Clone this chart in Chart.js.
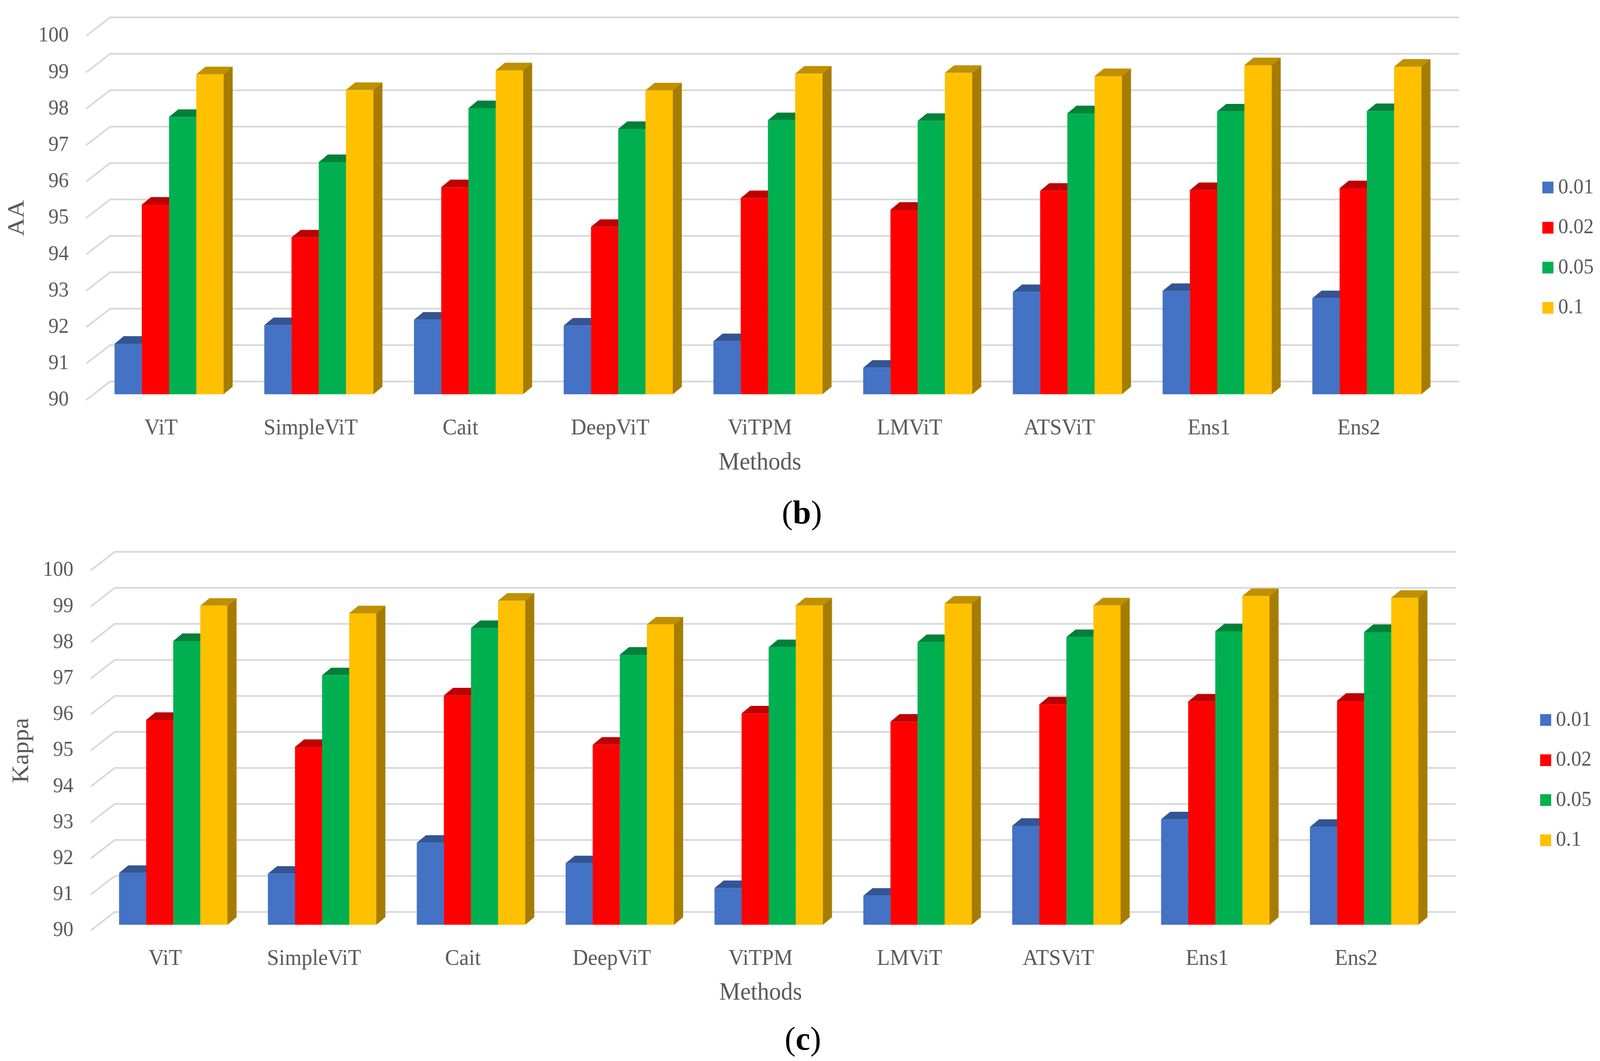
<!DOCTYPE html>
<html>
<head>
<meta charset="utf-8">
<title>AA and Kappa per method</title>
<script src="https://cdn.jsdelivr.net/npm/chart.js@4"></script>
<style>
  html, body { margin: 0; background: #fff; overflow: hidden; }
  canvas { position: absolute; left: 0; }
  .caption { position: absolute; font: 84px "Liberation Serif"; color: #000; transform: translate(-50%, -50%); }
</style>
</head>
<body>
<canvas id="aaChart" style="top:0"></canvas>
<canvas id="kappaChart" style="top:1358px"></canvas>
<div class="caption" style="left:50.12vw;top:1311px">(<b>b</b>)</div>
<div class="caption" style="left:50.18vw;top:2658px">(<b>c</b>)</div>

<script>
const methods = ["ViT", "SimpleViT", "Cait", "DeepViT", "ViTPM", "LMViT", "ATSViT", "Ens1", "Ens2"];
const seriesLabels = ["0.01", "0.02", "0.05", "0.1"];

// AA values
const aa001 = [91.39, 91.90, 92.05, 91.89, 91.46, 90.73, 92.81, 92.84, 92.64];
const aa002 = [95.21, 94.31, 95.69, 94.60, 95.39, 95.07, 95.59, 95.61, 95.66];
const aa005 = [97.62, 96.38, 97.86, 97.29, 97.53, 97.51, 97.72, 97.77, 97.78];
const aa01 = [98.79, 98.36, 98.90, 98.35, 98.81, 98.83, 98.74, 99.04, 99.00];

// Kappa values
const kappa001 = [91.44, 91.42, 92.28, 91.71, 91.02, 90.81, 92.75, 92.93, 92.72];
const kappa002 = [95.69, 94.94, 96.37, 95.00, 95.87, 95.64, 96.12, 96.20, 96.22];
const kappa005 = [97.88, 96.93, 98.24, 97.50, 97.71, 97.85, 97.99, 98.15, 98.13];
const kappa01 = [98.86, 98.65, 99.00, 98.34, 98.87, 98.92, 98.87, 99.13, 99.08];

const faceColors = ["#4472C4", "#FF0000", "#00B050", "#FFC000"];
const topColors = ["#335593", "#BE0000", "#00803A", "#BF9000"];
const sideColors = ["#2F5597", "#A00000", "#006B30", "#A67C00"];

const TEXT_COLOR = "#595959";
const FONT = "Liberation Serif";
// drawing size of the canvas; CSS fits it to the window, which can come out narrower than asked
const CANVAS_WIDTH = 4328;
const WALL_X = 65, WALL_Y = 47.4;     // front of the floor to the back wall
const BAR_X = 21.7, BAR_Y = 14.5;     // front of the floor to the bar faces
const DEPTH_X = 24.8, DEPTH_Y = 19.4; // bar depth

function polygon(ctx, color, points) {
    ctx.fillStyle = color;
    ctx.beginPath();
    points.forEach(([x, y], i) => i ? ctx.lineTo(x, y) : ctx.moveTo(x, y));
    ctx.closePath();
    ctx.fill();
}

// back wall, left wall and the top and side of every bar
const depth3d = {
    id: "depth3d",
    beforeDatasetsDraw(chart) {
        const { ctx, chartArea, scales } = chart;
        ctx.save();
        ctx.strokeStyle = "#D9D9D9";
        ctx.lineWidth = 4.5;
        scales.y.ticks.forEach(tick => {
            const y = scales.y.getPixelForValue(tick.value);
            ctx.beginPath();
            ctx.moveTo(chartArea.left, y);
            ctx.lineTo(chartArea.left + WALL_X, y - WALL_Y);
            ctx.lineTo(chartArea.right + WALL_X + 4, y - WALL_Y);
            ctx.stroke();
        });
        ctx.restore();

        // stays translated until afterDatasetsDraw so the bar faces land on the same plane
        ctx.save();
        ctx.translate(BAR_X, -BAR_Y);
        chart.data.datasets.forEach((dataset, s) => {
            chart.getDatasetMeta(s).data.forEach(bar => {
                const left = bar.x - bar.width / 2, right = bar.x + bar.width / 2;
                polygon(ctx, topColors[s], [[left, bar.y], [right, bar.y], [right + DEPTH_X, bar.y - DEPTH_Y], [left + DEPTH_X, bar.y - DEPTH_Y]]);
                polygon(ctx, sideColors[s], [[right, bar.y], [right + DEPTH_X, bar.y - DEPTH_Y], [right + DEPTH_X, bar.base - DEPTH_Y], [right, bar.base]]);
            });
        });
    },
    afterDatasetsDraw(chart) {
        chart.ctx.restore();
    }
};

// legend swatch as an image, so the label sits as close to it as in the picture
function swatch(color) {
    const c = document.createElement("canvas");
    c.width = 30;
    c.height = 30;
    const g = c.getContext("2d");
    g.fillStyle = color;
    g.fillRect(0, 0, 30, 30);
    return c;
}

function spacer(position, size) {
    return {
        type: "linear", position, display: true,
        ticks: { display: false }, grid: { display: false }, border: { display: false },
        afterFit(scale) { if (scale.isHorizontal()) scale.height = size; else scale.width = size; }
    };
}

function makeChart(id, yTitle, series, box) {
    const canvas = document.getElementById(id);
    canvas.width = CANVAS_WIDTH;
    canvas.height = box.height;
    canvas.style.width = "100vw";
    canvas.style.height = box.height + "px";
    return new Chart(canvas, {
        type: "bar",
        data: {
            labels: methods,
            datasets: series.map((values, s) => ({
                label: seriesLabels[s],
                data: values,
                base: 90,
                backgroundColor: faceColors[s],
                borderWidth: 0,
                barPercentage: 1,
                categoryPercentage: 0.7277
            }))
        },
        options: {
            responsive: false,
            animation: false,
            devicePixelRatio: 1,
            layout: { padding: { right: box.legendPad } },
            plugins: {
                tooltip: { enabled: false },
                legend: {
                    position: "right",
                    labels: {
                        color: TEXT_COLOR,
                        font: { family: FONT, size: 55, lineHeight: 1 },
                        padding: 47.5,
                        usePointStyle: true,
                        pointStyleWidth: 1,
                        generateLabels: chart => chart.data.datasets.map((d, s) => ({
                            text: d.label, pointStyle: swatch(faceColors[s]), datasetIndex: s, fontColor: TEXT_COLOR, lineWidth: 0
                        }))
                    }
                }
            },
            scales: {
                x: {
                    grid: { display: false, drawTicks: false },
                    border: { display: false },
                    ticks: { color: TEXT_COLOR, font: { family: FONT, size: 58 }, padding: 38, maxRotation: 0, autoSkip: false },
                    title: { display: true, text: "Methods", color: TEXT_COLOR, font: { family: FONT, size: 64 }, padding: box.methodsPad },
                    afterFit(scale) { scale.height = box.height - box.bottom; }
                },
                y: {
                    min: 90,
                    max: 100,
                    grid: { display: false, drawTicks: false },
                    border: { display: false },
                    ticks: { stepSize: 1, color: TEXT_COLOR, font: { family: FONT, size: 55 }, padding: 47 },
                    title: { display: true, text: yTitle, color: TEXT_COLOR, font: { family: FONT, size: 64 }, padding: box.titlePad },
                    afterFit(scale) { scale.width = box.left; }
                },
                xTop: spacer("top", box.top),
                yRight: {
                    ...spacer("right", 0),
                    afterFit(scale) { scale.width = CANVAS_WIDTH - box.legendPad - scale.chart.legend.width - box.right; }
                }
            }
        },
        plugins: [depth3d]
    });
}

makeChart("aaChart", "AA", [aa001, aa002, aa005, aa01], {
    height: 1268, top: 92, bottom: 1024, left: 233, right: 3878, legendPad: 7, methodsPad: 44, titlePad: 9
});
makeChart("kappaChart", "Kappa", [kappa001, kappa002, kappa005, kappa01], {
    height: 1278, top: 102, bottom: 1024, left: 245.5, right: 3869.5, legendPad: 13, methodsPad: 55, titlePad: 21
});
</script>
</body>
</html>
